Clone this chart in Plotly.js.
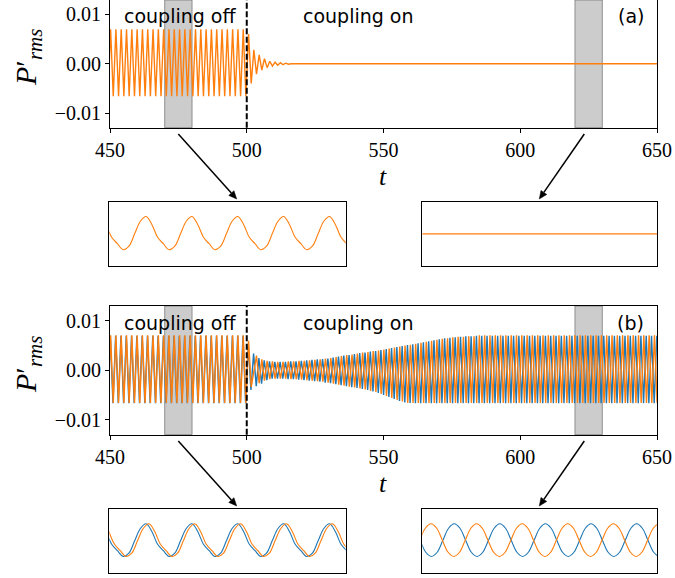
<!DOCTYPE html>
<html>
<head>
<meta charset="utf-8">
<script src="https://cdn.plot.ly/plotly-3.0.1.min.js"></script>
<style>html,body{margin:0;padding:0;background:#fff;}#plot{width:675px;height:578px;}</style>
</head>
<body>
<div id="plot"></div>
<script>
// ---------- DATA ----------
// Main panels: successive extrema (trough/peak) of P'rms, sampled every half period
const halfPeriod = 0.97;          // time between successive extrema
const startA = 449.25;            // time of first extremum, panel (a)
const startBblue = 449.15;        // blue leads orange slightly before coupling
const startBorange = 449.25;

const extremaA = [
  -0.0066,0.0070,-0.0066,0.0070,-0.0066,0.0070,-0.0066,0.0070,-0.0066,0.0070,
  -0.0066,0.0070,-0.0066,0.0070,-0.0066,0.0070,-0.0066,0.0070,-0.0066,0.0070,
  -0.0066,0.0070,-0.0066,0.0070,-0.0066,0.0070,-0.0066,0.0070,-0.0066,0.0070,
  -0.0066,0.0070,-0.0066,0.0070,-0.0066,0.0070,-0.0066,0.0070,-0.0066,0.0070,
  -0.0066,0.0070,-0.0066,0.0070,-0.0066,0.0070,-0.0066,0.0070,-0.0066,0.0070,
  -0.0066,0.0070,-0.0066,0.0060,-0.0040,0.0028,-0.0021,0.0018,-0.0013,0.0010,
  -0.0008,0.0005,-0.0005,0.0003,-0.0003,0.0002,-0.0002,0.0001,-0.0001,0
];
const flatA_t = [516.18, 650];
const flatA_v = [0, 0];

const extremaBblue = [
  -0.0067,0.0070,-0.0067,0.0070,-0.0067,0.0070,-0.0067,0.0070,-0.0067,0.0070,
  -0.0067,0.0070,-0.0067,0.0070,-0.0067,0.0070,-0.0067,0.0070,-0.0067,0.0070,
  -0.0067,0.0070,-0.0067,0.0070,-0.0067,0.0070,-0.0067,0.0070,-0.0067,0.0070,
  -0.0067,0.0070,-0.0067,0.0070,-0.0067,0.0070,-0.0067,0.0070,-0.0067,0.0070,
  -0.0067,0.0070,-0.0067,0.0070,-0.0067,0.0070,-0.0067,0.0070,-0.0067,0.0070,
  -0.0067,0.0070,-0.0067,0.0052,-0.0040,0.0034,-0.0032,0.0025,-0.0027,0.0020,
  -0.0020,0.0018,-0.0017,0.0017,-0.0017,0.0017,-0.0017,0.0017,-0.0018,0.0018,
  -0.0018,0.0018,-0.0019,0.0019,-0.0020,0.0020,-0.0021,0.0021,-0.0022,0.0022,
  -0.0023,0.0023,-0.0025,0.0024,-0.0026,0.0026,-0.0028,0.0028,-0.0030,0.0030,
  -0.0032,0.0031,-0.0034,0.0033,-0.0036,0.0035,-0.0038,0.0036,-0.0040,0.0038,
  -0.0043,0.0039,-0.0046,0.0041,-0.0050,0.0043,-0.0054,0.0045,-0.0058,0.0047,
  -0.0062,0.0049,-0.0065,0.0051,-0.0066,0.0053,-0.0067,0.0055,-0.0067,0.0057,
  -0.0067,0.0059,-0.0067,0.0061,-0.0067,0.0063,-0.0067,0.0065,-0.0067,0.0066,
  -0.0067,0.0067,-0.0067,0.0068,-0.0067,0.0069,-0.0067,0.0069,-0.0067,0.0070,
  -0.0067,0.0070,-0.0067,0.0070,-0.0067,0.0070,-0.0067,0.0070,-0.0067,0.0070,
  -0.0067,0.0070,-0.0067,0.0070,-0.0067,0.0070,-0.0067,0.0070,-0.0067,0.0070,
  -0.0067,0.0070,-0.0067,0.0070,-0.0067,0.0070,-0.0067,0.0070,-0.0067,0.0070,
  -0.0067,0.0070,-0.0067,0.0070,-0.0067,0.0070,-0.0067,0.0070,-0.0067,0.0070,
  -0.0067,0.0070,-0.0067,0.0070,-0.0067,0.0070,-0.0067,0.0070,-0.0067,0.0070,
  -0.0067,0.0070,-0.0067,0.0070,-0.0067,0.0070,-0.0067,0.0070,-0.0067,0.0070,
  -0.0067,0.0070,-0.0067,0.0070,-0.0067,0.0070,-0.0067,0.0070
];

const extremaBorange = [
  -0.0066,0.0071,-0.0066,0.0071,-0.0066,0.0071,-0.0066,0.0071,-0.0066,0.0071,
  -0.0066,0.0071,-0.0066,0.0071,-0.0066,0.0071,-0.0066,0.0071,-0.0066,0.0071,
  -0.0066,0.0071,-0.0066,0.0071,-0.0066,0.0071,-0.0066,0.0071,-0.0066,0.0071,
  -0.0066,0.0071,-0.0066,0.0071,-0.0066,0.0071,-0.0066,0.0071,-0.0066,0.0071,
  -0.0066,0.0071,-0.0066,0.0071,-0.0066,0.0071,-0.0066,0.0071,-0.0066,0.0071,
  -0.0066,0.0071,-0.0066,0.0060,-0.0034,-0.0004,0.0030,-0.0026,0.0022,-0.0021,
  0.0019,-0.0018,0.0018,-0.0017,0.0017,-0.0017,0.0017,-0.0017,0.0018,-0.0018,
  0.0018,-0.0018,0.0019,-0.0019,0.0019,-0.0020,0.0020,-0.0021,0.0021,-0.0022,
  0.0022,-0.0023,0.0024,-0.0025,0.0025,-0.0027,0.0027,-0.0029,0.0029,-0.0031,
  0.0031,-0.0033,0.0032,-0.0035,0.0034,-0.0037,0.0036,-0.0039,0.0037,-0.0042,
  0.0039,-0.0044,0.0040,-0.0048,0.0042,-0.0052,0.0044,-0.0056,0.0046,-0.0060,
  0.0048,-0.0063,0.0050,-0.0066,0.0052,-0.0066,0.0054,-0.0066,0.0056,-0.0066,
  0.0058,-0.0066,0.0060,-0.0066,0.0062,-0.0066,0.0064,-0.0066,0.0065,-0.0066,
  0.0067,-0.0066,0.0068,-0.0066,0.0068,-0.0066,0.0069,-0.0066,0.0069,-0.0066,
  0.0071,-0.0066,0.0071,-0.0066,0.0071,-0.0066,0.0071,-0.0066,0.0071,-0.0066,
  0.0071,-0.0066,0.0071,-0.0066,0.0071,-0.0066,0.0071,-0.0066,0.0071,-0.0066,
  0.0071,-0.0066,0.0071,-0.0066,0.0071,-0.0066,0.0071,-0.0066,0.0071,-0.0066,
  0.0071,-0.0066,0.0071,-0.0066,0.0071,-0.0066,0.0071,-0.0066,0.0071,-0.0066,
  0.0071,-0.0066,0.0071,-0.0066,0.0071,-0.0066,0.0071,-0.0066,0.0071,-0.0066,
  0.0071,-0.0066,0.0071,-0.0066,0.0071,-0.0066,0.0071,-0.0066,0.0071,-0.0066,
  0.0071,-0.0066,0.0071,-0.0066,0.0071,-0.0066,0.0071,-0.0066
];

// Insets: zoomed waveform, one sample every 0.2425 time units
const insetStep = 0.2425;
const insetAleft_t0 = 469.86;
const insetAleft = [
  0.0038,-0.0014,-0.0040,-0.0064,-0.0050,0.0000,0.0051,0.0070,
  0.0038,-0.0014,-0.0040,-0.0064,-0.0050,0.0000,0.0051,0.0070,
  0.0038,-0.0014,-0.0040,-0.0064,-0.0050,0.0000,0.0051,0.0070,
  0.0038,-0.0014,-0.0040,-0.0064,-0.0050,0.0000,0.0051,0.0070,
  0.0038,-0.0014,-0.0040,-0.0064,-0.0050,0.0000,0.0051,0.0070,
  0.0038,-0.0014,-0.0040,-0.0064
];
const insetAright_t = [620, 630];
const insetAright_v = [0, 0];

const insetBleftBlue_t0 = 469.86;
const insetBleftBlue = [
  0.0038,-0.0014,-0.0040,-0.0063,-0.0050,0.0000,0.0050,0.0069,
  0.0038,-0.0014,-0.0040,-0.0063,-0.0050,0.0000,0.0050,0.0069,
  0.0038,-0.0014,-0.0040,-0.0063,-0.0050,0.0000,0.0050,0.0069,
  0.0038,-0.0014,-0.0040,-0.0063,-0.0050,0.0000,0.0050,0.0069,
  0.0038,-0.0014,-0.0040,-0.0063,-0.0050,0.0000,0.0050,0.0069,
  0.0038,-0.0014,-0.0040,-0.0063
];
const insetBleftOrange_t0 = 469.98;
const insetBleftOrange = [
  0.0038,-0.0014,-0.0040,-0.0063,-0.0050,0.0000,0.0050,0.0069,
  0.0038,-0.0014,-0.0040,-0.0063,-0.0050,0.0000,0.0050,0.0069,
  0.0038,-0.0014,-0.0040,-0.0063,-0.0050,0.0000,0.0050,0.0069,
  0.0038,-0.0014,-0.0040,-0.0063,-0.0050,0.0000,0.0050,0.0069,
  0.0038,-0.0014,-0.0040,-0.0063,-0.0050,0.0000,0.0050,0.0069,
  0.0038,-0.0014,-0.0040,-0.0063
];
const insetBrightBlue_t0 = 619.42;
const insetBrightBlue = [
  0.0069,0.0051,0.0002,-0.0046,-0.0063,-0.0046,0.0002,0.0051,
  0.0069,0.0051,0.0002,-0.0046,-0.0063,-0.0046,0.0002,0.0051,
  0.0069,0.0051,0.0002,-0.0046,-0.0063,-0.0046,0.0002,0.0051,
  0.0069,0.0051,0.0002,-0.0046,-0.0063,-0.0046,0.0002,0.0051,
  0.0069,0.0051,0.0002,-0.0046,-0.0063,-0.0046,0.0002,0.0051,
  0.0069,0.0051,0.0002,-0.0046,-0.0063,-0.0046
];
const insetBrightOrange_t0 = 619.40;
const insetBrightOrange = [
  -0.0063,-0.0046,0.0002,0.0051,0.0069,0.0051,0.0002,-0.0046,
  -0.0063,-0.0046,0.0002,0.0051,0.0069,0.0051,0.0002,-0.0046,
  -0.0063,-0.0046,0.0002,0.0051,0.0069,0.0051,0.0002,-0.0046,
  -0.0063,-0.0046,0.0002,0.0051,0.0069,0.0051,0.0002,-0.0046,
  -0.0063,-0.0046,0.0002,0.0051,0.0069,0.0051,0.0002,-0.0046,
  -0.0063,-0.0046,0.0002,0.0051,0.0069,0.0051
];

const xTicks = [450, 500, 550, 600, 650];
const yTicks = [-0.01, 0, 0.01];
const yTickText = ['\u22120.01', '0.00', '0.01'];
const couplingTime = 500;
const windowLeft = [470, 480];
const windowRight = [620, 630];

// ---------- STYLE ----------
const BLUE = '#1f77b4', ORANGE = '#ff7f0e';
const W = 675, H = 578;
const px = v => v / W;            // pixel -> paper x
const py = v => 1 - v / H;        // pixel -> paper y
const serif = 'Liberation Serif, Times New Roman, serif';
const sans = 'DejaVu Sans, sans-serif';

const mainLine = c => ({color: c, width: 1.4});
const insetLine = c => ({color: c, width: 1.1, shape: 'spline', smoothing: 1});

const traces = [
  {x0: startA, dx: halfPeriod, y: extremaA, mode: 'lines', line: mainLine(ORANGE), xaxis: 'x', yaxis: 'y'},
  {x: flatA_t, y: flatA_v, mode: 'lines', line: mainLine(ORANGE), xaxis: 'x', yaxis: 'y'},
  {x0: insetAleft_t0, dx: insetStep, y: insetAleft, mode: 'lines', line: insetLine(ORANGE), xaxis: 'x2', yaxis: 'y2'},
  {x: insetAright_t, y: insetAright_v, mode: 'lines', line: {color: ORANGE, width: 1.1}, xaxis: 'x3', yaxis: 'y3'},
  {x0: startBblue, dx: halfPeriod, y: extremaBblue, mode: 'lines', line: mainLine(BLUE), xaxis: 'x4', yaxis: 'y4'},
  {x0: startBorange, dx: halfPeriod, y: extremaBorange, mode: 'lines', line: mainLine(ORANGE), xaxis: 'x4', yaxis: 'y4'},
  {x0: insetBleftBlue_t0, dx: insetStep, y: insetBleftBlue, mode: 'lines', line: insetLine(BLUE), xaxis: 'x5', yaxis: 'y5'},
  {x0: insetBleftOrange_t0, dx: insetStep, y: insetBleftOrange, mode: 'lines', line: insetLine(ORANGE), xaxis: 'x5', yaxis: 'y5'},
  {x0: insetBrightBlue_t0, dx: insetStep, y: insetBrightBlue, mode: 'lines', line: insetLine(BLUE), xaxis: 'x6', yaxis: 'y6'},
  {x0: insetBrightOrange_t0, dx: insetStep, y: insetBrightOrange, mode: 'lines', line: insetLine(ORANGE), xaxis: 'x6', yaxis: 'y6'}
];

const boxAxis = {showgrid: false, zeroline: false, showline: true, mirror: true, linecolor: 'black', linewidth: 1, fixedrange: true};
const mainX = (anchor) => Object.assign({}, boxAxis, {
  domain: [px(110), px(657)], range: [450, 650], anchor: anchor,
  ticks: 'outside', ticklen: 4, tickwidth: 1, tickcolor: 'black',
  tickvals: xTicks, ticktext: xTicks.map(String),
  tickfont: {family: serif, size: 20, color: 'black'}
});
const mainY = (anchor, top, bottom, range) => Object.assign({}, boxAxis, {
  domain: [py(bottom), py(top)], range: range, anchor: anchor,
  ticks: 'outside', ticklen: 4, tickwidth: 1, tickcolor: 'black',
  tickvals: yTicks, ticktext: yTickText,
  tickfont: {family: serif, size: 20, color: 'black'}
});
const insetX = (anchor, l, r, range) => Object.assign({}, boxAxis, {
  domain: [px(l), px(r)], range: range, anchor: anchor, showticklabels: false, ticks: ''
});
const insetY = (anchor, top, bottom) => Object.assign({}, boxAxis, {
  domain: [py(bottom), py(top)], range: [-0.013, 0.013], anchor: anchor, showticklabels: false, ticks: ''
});

const layout = {
  width: W, height: H,
  margin: {l: 0, r: 0, t: 0, b: 0},
  paper_bgcolor: 'white', plot_bgcolor: 'white',
  showlegend: false,
  xaxis: mainX('y'),
  yaxis: mainY('x', 0, 127.7, [-0.01298, 0.01292]),
  xaxis2: insetX('y2', 109.3, 345.7, windowLeft),
  yaxis2: insetY('x2', 201.7, 266),
  xaxis3: insetX('y3', 422.3, 657.3, windowRight),
  yaxis3: insetY('x3', 201.7, 266),
  xaxis4: mainX('y4'),
  yaxis4: mainY('x4', 306, 434.7, [-0.01306, 0.01304]),
  xaxis5: insetX('y5', 109.3, 345.7, windowLeft),
  yaxis5: insetY('x5', 508.7, 573),
  xaxis6: insetX('y6', 422.3, 657.3, windowRight),
  yaxis6: insetY('x6', 508.7, 573),
  shapes: [],
  annotations: []
};

// shaded windows and coupling line for both main panels
[['x', 'y'], ['x4', 'y4']].forEach(([xa, ya]) => {
  [windowLeft, windowRight].forEach(win => {
    layout.shapes.push({type: 'rect', xref: xa, yref: ya + ' domain', x0: win[0], x1: win[1], y0: 0, y1: 1,
      fillcolor: 'rgba(128,128,128,0.4)', line: {color: 'rgba(110,110,110,0.7)', width: 1}, layer: 'below'});
  });
  layout.shapes.push({type: 'line', xref: xa, yref: ya + ' domain', x0: couplingTime, x1: couplingTime, y0: 0, y1: 1,
    line: {color: 'black', width: 2, dash: '6px,2.5px'}, layer: 'above'});
});

// arrow drawn as a line plus a filled head (pixel geometry of the figure)
function arrow(tx, ty, hx, hy) {
  const dx = hx - tx, dy = hy - ty, len = Math.hypot(dx, dy);
  const ux = dx / len, uy = dy / len, nx = -uy, ny = ux;
  const hl = 8, hw = 3.5;
  const bx = hx - hl * ux, by = hy - hl * uy;
  layout.shapes.push({type: 'line', xref: 'paper', yref: 'paper', x0: px(tx), y0: py(ty), x1: px(bx), y1: py(by),
    line: {color: 'black', width: 1.5}});
  const P = (x, y) => px(x).toFixed(5) + ',' + py(y).toFixed(5);
  layout.shapes.push({type: 'path', xref: 'paper', yref: 'paper',
    path: 'M' + P(hx, hy) + ' L' + P(bx + hw * nx, by + hw * ny) + ' L' + P(bx - hw * nx, by - hw * ny) + ' Z',
    fillcolor: 'black', line: {color: 'black', width: 0.5}});
}

// texts
const offsets = [0, 307];
['(a)', '(b)'].forEach((lab, k) => {
  const o = offsets[k];
  const A = layout.annotations;
  A.push({xref: 'paper', yref: 'paper', x: px(122), y: py(16 + o), xanchor: 'left', yanchor: 'middle',
    text: 'coupling off', showarrow: false, font: {family: sans, size: 19, color: 'black'}});
  A.push({xref: 'paper', yref: 'paper', x: px(301), y: py(16 + o), xanchor: 'left', yanchor: 'middle',
    text: 'coupling on', showarrow: false, font: {family: sans, size: 19, color: 'black'}});
  A.push({xref: 'paper', yref: 'paper', x: px(630.5), y: py(16 + o), xanchor: 'center', yanchor: 'middle',
    text: lab, showarrow: false, font: {family: sans, size: 19, color: 'black'}});
  A.push({xref: 'paper', yref: 'paper', x: px(383.3), y: py(176 + o), xanchor: 'center', yanchor: 'middle',
    text: '<i>t</i>', showarrow: false, font: {family: serif, size: 26, color: 'black'}});
  A.push({xref: 'paper', yref: 'paper', x: px(28), y: py(58 + o), xanchor: 'center', yanchor: 'middle', textangle: -90,
    text: '<i>P</i>\u2032<sub><i>rms</i></sub>', showarrow: false, font: {family: serif, size: 30, color: 'black'}});
  arrow(178.3, 134 + o, 236.7, 199 + o);
  arrow(584.3, 134 + o, 539.3, 199 + o);
});

Plotly.newPlot('plot', traces, layout, {staticPlot: true, displayModeBar: false});
</script>
</body>
</html>
